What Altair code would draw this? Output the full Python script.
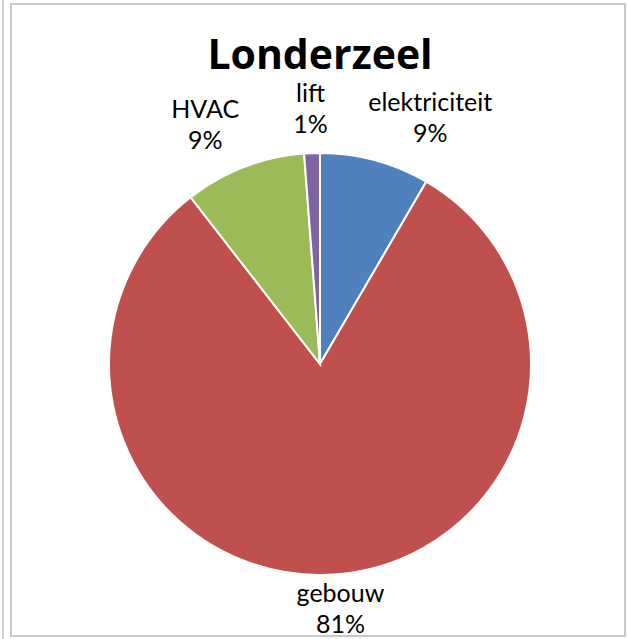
import altair as alt
import pandas as pd

categories = ["elektriciteit", "gebouw", "HVAC", "lift"]
values = [8.4, 81.1, 9.3, 1.2]
pct_labels = ["9%", "81%", "9%", "1%"]
colors = ["#4F81BD", "#C0504D", "#9BBB59", "#8064A2"]

df = pd.DataFrame({
    "cat": categories,
    "val": values,
    "pct": pct_labels,
    "order": list(range(len(categories))),
})
df["label"] = df["cat"] + "\n" + df["pct"]

W, H = 422, 422
FONT = "Lato"

base = alt.Chart(df).encode(
    theta=alt.Theta("val:Q", stack=True),
    order=alt.Order("order:Q"),
)

pie = base.mark_arc(stroke="white", strokeWidth=2).encode(
    color=alt.Color("cat:N", scale=alt.Scale(domain=categories, range=colors), legend=None)
)

offsets = {"elektriciteit": (45, -12), "gebouw": (4, -11), "HVAC": (-25, -13), "lift": (0, -12)}
label_layers = []
for c in categories:
    dx, dy = offsets[c]
    label_layers.append(
        base.mark_text(font=FONT, fontSize=25, color="#000000", lineBreak="\n",
                       align="center", baseline="alphabetic", lineHeight=31,
                       radius=250, dx=dx, dy=dy)
        .encode(text="label:N", opacity=alt.condition(alt.datum.cat == c, alt.value(1), alt.value(0)))
    )

frame = alt.Chart(df).mark_rect(fill=None, stroke="#C8C8C8", strokeWidth=1.5).encode(
    x=alt.value(-98), x2=alt.value(516), y=alt.value(-149), y2=alt.value(483)
)
left_line = alt.Chart(df).mark_rule(stroke="#D0D0D0", strokeWidth=2).encode(
    x=alt.value(-106), y=alt.value(-153), y2=alt.value(486)
)

chart = alt.layer(frame, left_line, pie, *label_layers).properties(
    width=W, height=H,
    title=alt.TitleParams("Londerzeel", font="Open Sans", fontSize=41, fontWeight="bold",
                          color="#000000", anchor="middle", offset=0, dy=111,
                          baseline="alphabetic"),
    autosize=alt.AutoSizeParams(type="none"),
    padding={"left": 109, "top": 153, "right": 96, "bottom": 64},
).configure_view(stroke=None)

chart.save("out.html", embed_options={"renderer": "svg", "actions": False})
